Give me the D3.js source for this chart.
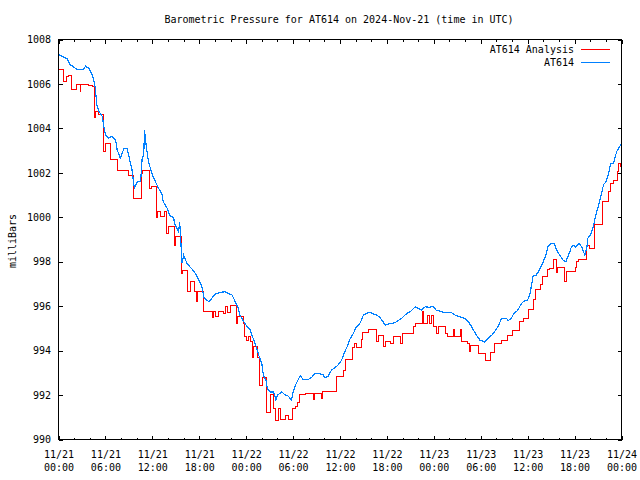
<!DOCTYPE html>
<html>
<head>
<meta charset="utf-8">
<script src="https://cdn.jsdelivr.net/npm/d3@7"></script>
<style>
  html, body { margin: 0; padding: 0; background: #fff; }
  svg { display: block; }
  text { font-family: "DejaVu Sans Mono", monospace; font-size: 10px; fill: #000; }
</style>
</head>
<body>
<svg id="chart" width="640" height="480"></svg>
<script>
// ---- Data (hours after 2024-11-21 00:00 UTC, pressure in mb) ----
const title = "Barometric Pressure for AT614 on 2024-Nov-21 (time in UTC)";
const yLabel = "milliBars";
const seriesNames = ["AT614 Analysis", "AT614"];

const xTickHours = [0, 6, 12, 18, 24, 30, 36, 42, 48, 54, 60, 66, 72];
const xTickDates = ["11/21","11/21","11/21","11/21","11/22","11/22","11/22","11/22","11/23","11/23","11/23","11/23","11/24"];
const xTickTimes = ["00:00","06:00","12:00","18:00","00:00","06:00","12:00","18:00","00:00","06:00","12:00","18:00","00:00"];
const yTicks = [990, 992, 994, 996, 998, 1000, 1002, 1004, 1006, 1008];

// AT614 Analysis (red, stepped)
const analysisHours = [0,0.7,1.0,1.3,1.65,2.3,2.75,2.85,3.9,4.3,4.6,4.7,5.15,5.7,6.0,6.65,7.6,8.9,9.55,10.6,10.8,11.65,11.9,12.55,12.7,13.1,13.5,13.8,14.1,14.8,14.95,15.7,15.85,16.5,16.9,17.45,17.7,17.8,18.6,19.75,19.85,20.05,20.5,21.1,21.4,21.65,22.0,22.7,22.8,22.95,23.65,23.85,24.1,24.3,24.55,24.75,24.85,24.95,25.5,25.7,26.15,26.6,27.05,27.45,27.7,28.1,28.45,29.0,29.45,29.95,30.3,30.55,30.85,31.6,32.65,32.8,33.6,33.7,35.6,36.5,36.7,37.55,37.85,38.1,38.7,38.9,39.6,40.65,40.9,41.6,41.85,42.5,42.9,43.8,44.0,45.45,45.7,46.55,46.7,47.2,47.5,47.75,47.95,48.4,48.65,49.5,49.7,50.5,50.65,51.45,51.55,52.3,52.6,52.7,53.65,54.6,55.3,55.7,56.6,57.45,58.05,58.9,59.5,60.05,60.75,60.95,61.6,61.85,62.55,62.8,63.25,63.75,63.85,64.65,65.0,66.15,66.3,66.5,67.5,67.9,68.55,69.55,70.35,70.6,71.0,71.45,71.65,71.85,72];
const analysisValues = [1006.65,1006.12,1006.35,1006.4,1005.74,1005.97,1005.65,1005.97,1005.92,1005.9,1004.47,1004.77,1004.62,1002.96,1003.34,1002.59,1002.09,1001.9,1000.86,1001.99,1002.09,1001.31,1001.4,1000.0,1000.26,1000.05,1000.26,999.28,999.58,998.75,999.13,997.45,997.6,996.65,997.1,996.65,996.2,996.65,995.75,995.5,995.75,995.55,995.75,995.65,995.97,995.7,996.05,995.55,995.22,995.55,995.22,994.62,994.47,994.62,994.4,994.17,993.68,994.17,993.71,992.41,992.81,991.2,992.03,991.39,990.86,991.39,990.9,991.1,990.9,991.39,991.5,991.68,992.03,992.06,991.8,992.06,991.85,992.18,992.85,993.12,993.6,994.14,994.32,994.14,994.5,994.8,994.95,994.39,994.7,994.2,994.4,994.3,994.62,994.3,994.77,995.07,995.22,995.75,995.22,995.6,995.22,995.6,995.07,994.77,995.07,994.77,994.62,994.95,994.62,994.95,994.4,994.3,993.95,994.24,993.87,993.57,993.9,994.32,994.47,994.69,994.9,995.3,995.45,995.85,996.3,996.75,996.99,997.32,997.66,997.7,998.08,997.5,997.75,997.1,997.55,997.75,998.0,998.1,998.75,998.6,999.66,1000.7,1001.16,1001.53,1001.65,1002.06,1002.4,1002.29,1002.29];

// AT614 observations (blue)
const obsHours = [0,1.1,1.5,2.4,3.2,3.45,3.9,4.2,4.5,4.7,4.9,5.15,5.6,5.8,6.0,6.4,6.85,7.3,7.5,7.9,8.35,8.8,9.05,9.4,9.7,10.1,10.5,10.7,10.9,11.0,11.2,11.5,12.0,12.4,12.8,13.2,13.4,13.9,14.3,14.7,14.9,15.35,15.5,15.8,16.0,16.4,16.6,17.1,17.5,17.9,18.35,18.6,19.2,19.6,20.0,20.7,21.3,21.7,22.2,22.6,23.0,23.2,23.7,24.1,24.5,24.9,25.3,25.6,26.0,26.2,26.55,26.7,27.1,27.5,27.8,28.0,28.55,29.0,29.4,29.8,30.0,30.4,30.9,31.3,31.95,32.4,32.8,33.45,33.9,34.0,34.5,34.9,35.4,35.8,36.2,36.6,36.9,37.3,37.7,38.1,38.6,39.0,39.4,39.8,40.25,40.7,41.1,41.5,41.8,42.4,43.0,43.4,43.9,44.3,44.7,45.1,45.6,46.0,46.4,46.9,47.5,47.9,48.3,49.0,49.6,50.3,50.7,51.3,52.0,52.4,52.8,53.2,53.6,53.9,54.5,54.9,55.4,55.8,56.2,56.65,57.3,57.5,57.9,58.3,58.7,59.2,59.6,60.0,60.3,60.7,61.1,61.5,62.0,62.4,62.6,63.0,63.4,63.7,64.1,64.5,64.9,65.1,65.4,65.6,65.9,66.1,66.6,67.0,67.3,67.55,67.7,68.1,68.4,68.65,68.9,69.2,69.45,69.7,70.0,70.3,70.6,71.0,71.2,71.4,71.9,72];
const obsValues = [1007.32,1007.14,1006.87,1006.65,1006.65,1006.8,1006.7,1006.5,1006.2,1005.82,1005.07,1004.77,1004.54,1004.09,1003.72,1003.57,1003.64,1003.49,1003.04,1002.66,1003.08,1003.08,1002.66,1002.14,1001.31,1001.61,1001.61,1002.66,1002.8,1003.94,1003.26,1002.51,1001.9,1001.6,1001.3,1001.08,1000.7,1000.4,1000.03,1000.0,999.66,999.35,999.8,997.93,998.3,997.95,997.85,997.66,997.48,997.2,996.87,996.4,996.2,996.35,996.54,996.62,996.65,996.57,996.5,996.2,995.9,995.6,995.3,995.1,994.95,994.54,994.17,993.8,993.42,992.9,992.66,992.29,992.14,992.14,991.79,992.0,992.14,992.0,991.95,991.76,992.14,992.52,992.87,992.7,992.7,992.81,992.97,992.95,992.9,992.78,992.85,993.12,993.24,993.37,993.57,993.94,994.17,994.54,994.77,995.07,995.25,995.6,995.67,995.73,995.65,995.6,995.5,995.3,995.14,995.22,995.25,995.35,995.45,995.6,995.7,995.79,995.97,995.9,995.82,995.97,995.95,996.0,995.82,995.75,995.7,995.7,995.6,995.52,995.45,995.3,995.1,994.84,994.62,994.47,994.39,994.54,994.69,994.87,995.07,995.45,995.46,995.34,995.46,995.7,995.8,996.12,996.24,996.28,996.57,997.35,997.4,997.63,998.0,998.38,998.68,998.83,998.83,998.53,998.3,998.08,998.0,998.2,998.45,998.68,998.75,998.65,998.83,998.6,998.3,998.6,999.06,999.25,999.58,1000.03,1000.33,1000.7,1001.08,1001.46,1001.6,1001.9,1002.41,1002.45,1002.74,1002.96,1003.26,1003.3];

const colors = ["#ff0000", "#0080ff"];

// ---- Layout ----
const L = 58.5, R = 621.5, T = 39.5, B = 439.5;
const svg = d3.select("#chart");

const x = d3.scaleLinear().domain([0, 72]).range([L, R]);
const y = d3.scaleLinear().domain([990, 1008]).range([B, T]);

const minorX = d3.range(0, 73, 2).filter(h => h % 6 !== 0);

// Title
svg.append("text").attr("x", 339).attr("y", 23).attr("text-anchor", "middle").text(title);

// Y label
svg.append("text")
  .attr("transform", "translate(15.5,241) rotate(-90)")
  .attr("text-anchor", "middle").text(yLabel);

function styleAxis(g) {
  g.select(".domain").remove();
  g.selectAll(".tick line").attr("stroke", "#000").attr("shape-rendering", "crispEdges");
}

// Bottom axis major ticks with labels
const gB = svg.append("g").attr("transform", `translate(0,${B})`)
  .call(d3.axisBottom(x).tickValues(xTickHours).tickSizeInner(-4).tickSizeOuter(0).tickFormat(() => ""));
styleAxis(gB);
gB.selectAll(".tick text").remove();
gB.selectAll(".tick").each(function(d, i) {
  const t = d3.select(this).append("text").attr("text-anchor", "middle")
    .style("font-family", '"DejaVu Sans Mono", monospace').style("font-size", "10px").attr("fill", "#000");
  t.append("tspan").attr("x", 0).attr("y", 18).text(xTickDates[i]);
  t.append("tspan").attr("x", 0).attr("y", 31).text(xTickTimes[i]);
});
// Bottom minor
styleAxis(svg.append("g").attr("transform", `translate(0,${B})`)
  .call(d3.axisBottom(x).tickValues(minorX).tickSizeInner(-2).tickSizeOuter(0).tickFormat(() => "")));
// Top major + minor
styleAxis(svg.append("g").attr("transform", `translate(0,${T})`)
  .call(d3.axisTop(x).tickValues(xTickHours).tickSizeInner(-4).tickSizeOuter(0).tickFormat(() => "")));
styleAxis(svg.append("g").attr("transform", `translate(0,${T})`)
  .call(d3.axisTop(x).tickValues(minorX).tickSizeInner(-2).tickSizeOuter(0).tickFormat(() => "")));

// Left axis
const gL = svg.append("g").attr("transform", `translate(${L},0)`)
  .call(d3.axisLeft(y).tickValues(yTicks).tickSizeInner(-4).tickSizeOuter(0).tickPadding(7.5).tickFormat(d3.format("d")));
styleAxis(gL);
gL.selectAll(".tick text").style("font-family", '"DejaVu Sans Mono", monospace').style("font-size", "10px").attr("fill", "#000");
// Right axis
styleAxis(svg.append("g").attr("transform", `translate(${R},0)`)
  .call(d3.axisRight(y).tickValues(yTicks).tickSizeInner(-4).tickSizeOuter(0).tickFormat(() => "")));

// Series
const analysisData = analysisHours.map((h, i) => [h, analysisValues[i]]);
const obsData = obsHours.map((h, i) => [h, obsValues[i]]);

const stepLine = d3.line().x(d => x(d[0])).y(d => y(d[1])).curve(d3.curveStepAfter);
const plainLine = d3.line().x(d => x(d[0])).y(d => y(d[1]));

svg.append("path").datum(analysisData).attr("d", stepLine)
  .attr("fill", "none").attr("stroke", colors[0]).attr("stroke-width", 1).attr("shape-rendering", "crispEdges");
svg.append("path").datum(obsData).attr("d", plainLine)
  .attr("fill", "none").attr("stroke", colors[1]).attr("stroke-width", 1.2).attr("shape-rendering", "crispEdges");

// Border
svg.append("rect").attr("x", L).attr("y", T).attr("width", R - L).attr("height", B - T)
  .attr("fill", "none").attr("stroke", "#000").attr("stroke-width", 1).attr("shape-rendering", "crispEdges");

// Legend
const legendY = [49.5, 62.5];
seriesNames.forEach((name, i) => {
  svg.append("text").attr("x", 574).attr("y", legendY[i] + 3.5).attr("text-anchor", "end").text(name);
  svg.append("line").attr("x1", 581).attr("x2", 610).attr("y1", legendY[i]).attr("y2", legendY[i])
    .attr("stroke", colors[i]).attr("stroke-width", 1).attr("shape-rendering", "crispEdges");
});
</script>
</body>
</html>
